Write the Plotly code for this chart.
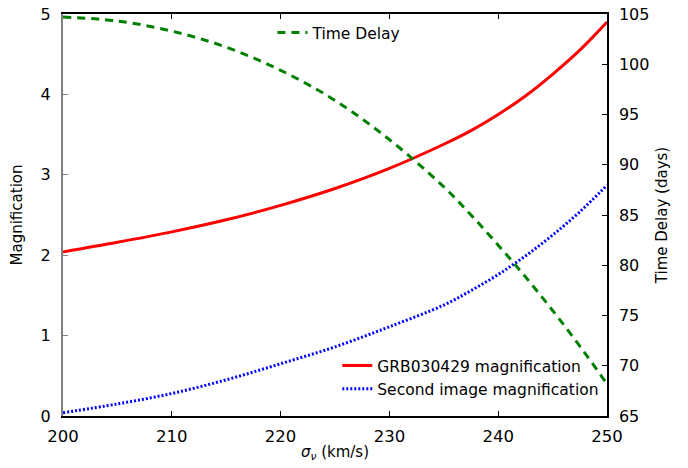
import plotly.graph_objects as go

sigma = [200, 205, 210, 215, 220, 225, 230, 235, 237.5, 240, 242.5, 245, 247.5, 250]
grb_mag = [2.04, 2.16, 2.29, 2.44, 2.62, 2.83, 3.08, 3.38, 3.55, 3.75, 3.98, 4.25, 4.55, 4.90]
second_mag = [0.04, 0.15, 0.28, 0.45, 0.65, 0.86, 1.11, 1.38, 1.56, 1.76, 1.99, 2.25, 2.54, 2.87]
time_delay = [104.7, 104.3, 103.3, 101.7, 99.4, 96.4, 92.5, 87.8, 85.0, 82.0, 78.85, 75.5, 71.95, 68.2]

FONT = "DejaVu Sans"
fig = go.Figure()
fig.add_trace(go.Scatter(x=sigma, y=grb_mag, mode="lines", name="GRB030429 magnification",
                         line=dict(color="red", width=3, shape="spline"), legend="legend"))
fig.add_trace(go.Scatter(x=sigma, y=second_mag, mode="lines", name="Second image magnification",
                         line=dict(color="blue", width=3, dash="2px,2px", shape="spline"), legend="legend"))
fig.add_trace(go.Scatter(x=sigma, y=time_delay, mode="lines", name="Time Delay", yaxis="y2",
                         line=dict(color="green", width=3, dash="8px,6px", shape="spline"), legend="legend2"))

# page body has an 8px margin, so the figure is 8px smaller and margins shifted
fig.update_layout(
    width=680, height=460,
    margin=dict(l=55, r=81, t=6, b=52),
    plot_bgcolor="white", paper_bgcolor="white",
    font=dict(family=FONT, size=15, color="black"),
    xaxis=dict(range=[200, 250], dtick=10, showgrid=False, zeroline=False, automargin=False,
               showline=True, linecolor="black", linewidth=1.5, mirror="ticks",
               ticks="inside", ticklen=5, tickcolor="black", tickfont=dict(size=16.5),
               ticklabelstandoff=4, ticklabeloverflow="allow",
               title=dict(text="<i>σ</i><sub><i>ν</i></sub> (km/s)", font=dict(size=15), standoff=2)),
    yaxis=dict(range=[0, 5], dtick=1, showgrid=False, zeroline=False, automargin=False,
               showline=True, linecolor="gray", linewidth=2,
               ticks="inside", ticklen=5, tickcolor="gray", tickfont=dict(size=16),
               ticklabelstandoff=7, ticklabeloverflow="allow",
               title=dict(text="Magnification", font=dict(size=15), standoff=14)),
    yaxis2=dict(range=[65, 105], dtick=5, overlaying="y", side="right", showgrid=False, zeroline=False,
                automargin=False,
                showline=True, linecolor="black", linewidth=1.5,
                ticks="inside", ticklen=5, tickcolor="black", tickfont=dict(size=16),
                ticklabelstandoff=7, ticklabeloverflow="allow",
                title=dict(text="Time Delay (days)", font=dict(size=15), standoff=8)),
    legend=dict(x=0.995, y=0.025, xanchor="right", yanchor="bottom", bgcolor="rgba(0,0,0,0)",
                font=dict(size=15.5), tracegroupgap=0, itemwidth=30),
    legend2=dict(x=0.385, y=0.995, xanchor="left", yanchor="top", bgcolor="rgba(0,0,0,0)",
                 font=dict(size=15.5), itemwidth=30),
)
fig.write_html("out.html")
